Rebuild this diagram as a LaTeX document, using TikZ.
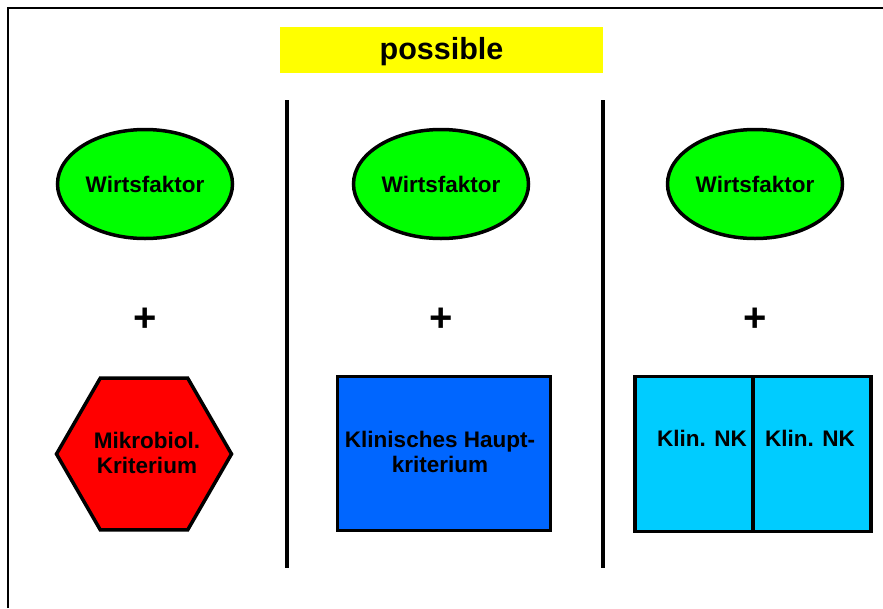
\documentclass[tikz,border=0pt]{standalone}
\usepackage{fontspec}
\setmainfont{Liberation Sans}
\usetikzlibrary{shapes.geometric}
\definecolor{ygreen}{HTML}{00FF00}
\definecolor{yred}{HTML}{FF0000}
\definecolor{yblue}{HTML}{0066FF}
\definecolor{ycyan}{HTML}{00CCFF}
\definecolor{yyellow}{HTML}{FFFF00}
\tikzset{
  lbl/.style={font=\fontsize{22.5}{25}\selectfont\bfseries, align=center, inner sep=0pt},
  wirt/.style={ellipse, draw=black, line width=3.5pt, fill=ygreen, minimum width=175pt, minimum height=109pt, inner sep=0pt, lbl},
  hexa/.style={regular polygon, regular polygon sides=6, draw=black, line width=3.5pt, fill=yred, minimum size=175pt, inner sep=0pt},
  boxa/.style={rectangle, draw=black, line width=3.5pt, inner sep=0pt},
  plus/.style={font=\fontsize{40}{40}\selectfont\bfseries, inner sep=0pt},
  divider/.style={line width=3.5pt},
}
\begin{document}
\begin{tikzpicture}[x=1pt,y=-1pt]
\useasboundingbox (0,0) rectangle (883,608);
% frame
\coordinate (fbl) at (8,608);
\coordinate (ftl) at (8,8);
\coordinate (ftr) at (883,8);
\draw[line width=2.5pt] (fbl) -- (ftl) -- (ftr);
% title
\node[fill=yyellow, minimum width=323pt, minimum height=46pt, inner sep=0pt] (title) at (441.5,50) {};
\node[font=\fontsize{30.5}{30}\selectfont\bfseries, inner sep=0pt] (titlet) at (441.5,52) {possible};
% dividers
\coordinate (d1t) at (287,100);
\coordinate (d1b) at (287,568);
\coordinate (d2t) at (603,100);
\coordinate (d2b) at (603,568);
\draw[divider] (d1t) -- (d1b);
\draw[divider] (d2t) -- (d2b);
% ellipses
\node[wirt] (w1) at (145,184) {Wirtsfaktor};
\node[wirt] (w2) at (441,184) {Wirtsfaktor};
\node[wirt] (w3) at (755,184) {Wirtsfaktor};
% plus
\node[plus] (p1) at (145,320) {+};
\node[plus] (p2) at (441,320) {+};
\node[plus] (p3) at (755,320) {+};
% hexagon
\node[hexa] (hex) at (144,454) {};
\node[lbl] (hext) at (147,453) {Mikrobiol.\\Kriterium};
% blue box
\node[boxa, fill=yblue, minimum width=213pt, minimum height=154pt] (haupt) at (444,453.5) {};
\node[lbl] (hauptt) at (440,452) {Klinisches Haupt-\\kriterium};
% cyan boxes
\node[boxa, fill=ycyan, minimum width=118pt, minimum height=155pt] (nk1) at (694,454) {};
\node[boxa, fill=ycyan, minimum width=118pt, minimum height=155pt] (nk2) at (812,454) {};
\node[lbl] (nk1t) at (702,438) {Klin. NK};
\node[lbl] (nk2t) at (810,438) {Klin. NK};
\end{tikzpicture}
\end{document}
